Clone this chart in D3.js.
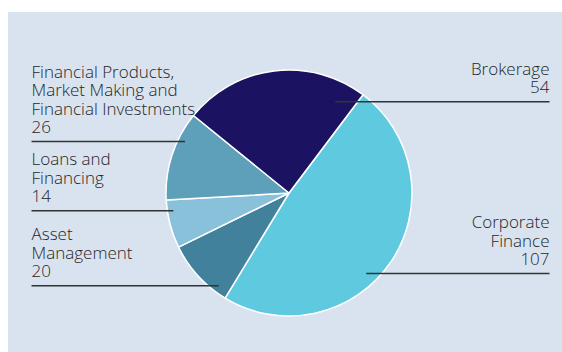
<!DOCTYPE html>
<html>
<head>
<meta charset="utf-8">
<script src="https://cdn.jsdelivr.net/npm/d3@7"></script>
<style>
  html, body { margin: 0; padding: 0; background: #ffffff; }
  svg { display: block; }
  text { font-family: "Open Sans", "DejaVu Sans", sans-serif; font-weight: 300; fill: #262626; }
</style>
</head>
<body>
<svg id="chart" width="562" height="352"></svg>
<script>
// Revenue by business segment
const segments = ["Corporate Finance", "Asset Management", "Loans and Financing",
                  "Financial Products, Market Making and Financial Investments", "Brokerage"];
const values = [107, 20, 14, 26, 54];
const labelLines = [
  ["Corporate", "Finance"],
  ["Asset", "Management"],
  ["Loans and", "Financing"],
  ["Financial Products,", "Market Making and", "Financial Investments"],
  ["Brokerage"]
];
const colors = ["#5ec9df", "#41819b", "#89c0da", "#5e9fba", "#1b1361"];

// Layout: which side each label sits on, the y of its rule, and how far the rule reaches into the pie
const side = ["right", "left", "left", "left", "right"];
const ruleY = [273.5, 285.7, 210.7, 141.5, 101.7];
const ruleReach = [0.83, 0.87, 0.95, 0.93, 0.56];

const W = 562, H = 352;
const svg = d3.select("#chart");

// panel background
svg.append("rect").attr("x", 8).attr("y", 12).attr("width", W - 8).attr("height", H - 12)
  .attr("fill", "#d9e3ef");

const cx = 289, cy = 193, r = 123;
const startDeg = 37;

const pie = d3.pie().sort(null)
  .startAngle(startDeg * Math.PI / 180)
  .endAngle((startDeg + 360) * Math.PI / 180);
const arcs = pie(values);
const arc = d3.arc().innerRadius(0).outerRadius(r);

const g = svg.append("g").attr("transform", `translate(${cx},${cy})`);
g.selectAll("path").data(arcs).join("path")
  .attr("d", arc)
  .attr("fill", (d, i) => colors[i])
  .attr("stroke", "#ffffff")
  .attr("stroke-width", 1.5)
  .attr("stroke-linejoin", "round");

// labels with horizontal rules
const leftX = 31.5, rightX = 549.5, lineH = 18.5;
arcs.forEach((a, i) => {
  const y = ruleY[i];
  const dy = y - cy;
  const halfChord = Math.sqrt(Math.max(0, r * r - dy * dy));
  let x1, x2, tx, anchor;
  if (side[i] === "left") {
    x1 = leftX;
    x2 = cx - halfChord * ruleReach[i];
    tx = leftX; anchor = "start";
  } else {
    x1 = cx + halfChord * ruleReach[i];
    x2 = rightX;
    tx = rightX; anchor = "end";
  }
  svg.append("line")
    .attr("x1", x1).attr("x2", x2).attr("y1", y).attr("y2", y)
    .attr("stroke", "#333333").attr("stroke-width", 1.6);

  const lines = labelLines[i].concat([String(values[i])]);
  const lastBase = y - 8.5;
  lines.forEach((s, k) => {
    svg.append("text")
      .attr("text-anchor", anchor)
      .attr("font-size", 17)
      .attr("x", tx)
      .attr("y", lastBase - (lines.length - 1 - k) * lineH)
      .text(s);
  });
});
</script>
</body>
</html>
